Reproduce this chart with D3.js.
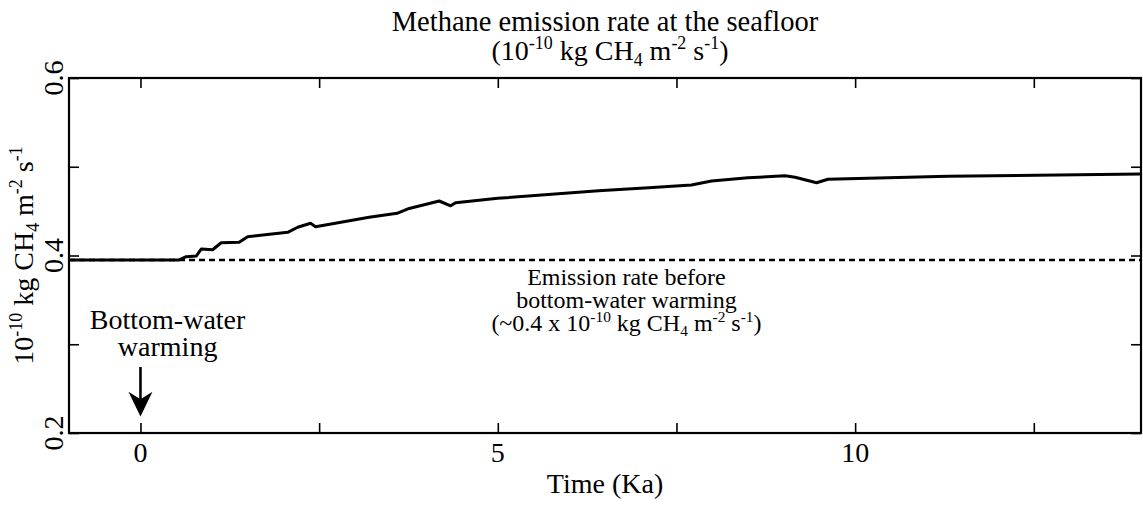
<!DOCTYPE html>
<html>
<head>
<meta charset="utf-8">
<script src="https://cdn.jsdelivr.net/npm/d3@7"></script>
<style>
  html, body { margin: 0; padding: 0; background: #fff; }
  svg { display: block; }
  text { font-family: "Liberation Serif", "Times New Roman", serif; fill: #000; }
</style>
</head>
<body>
<svg id="chart" width="1143" height="506"></svg>
<script>
// Time since bottom-water warming began (thousand years)
const timeKa = [-1, 0.54, 0.64, 0.78, 0.85, 1.01, 1.13, 1.38, 1.50, 2.06, 2.20, 2.38, 2.45,
  3.20, 3.59, 3.76, 4.18, 4.34, 4.41, 5.0, 6.41, 7.11, 7.71, 7.99, 8.5, 9.02, 9.16, 9.46, 9.62, 11.3, 14];
// Seafloor methane emission rate (10^-10 kg CH4 m^-2 s^-1)
const emission = [0.395, 0.395, 0.3987, 0.3994, 0.4073, 0.4065, 0.4144, 0.4149, 0.4212, 0.4261, 0.4318, 0.4363, 0.4325,
  0.443, 0.4475, 0.453, 0.4614, 0.456, 0.4595, 0.4644, 0.473, 0.4764, 0.4794, 0.484, 0.4875, 0.4899, 0.4881, 0.482, 0.4859, 0.4893, 0.4918];
// Pre-warming reference rate
const baselineRate = 0.395;

const xTicks = [0, 2.5, 5, 7.5, 10, 12.5];
const xTickLabels = { 0: "0", 5: "5", 10: "10" };
const yTicks = [0.2, 0.3, 0.4, 0.5, 0.6];
const yTickLabels = { 0.2: "0.2", 0.4: "0.4", 0.6: "0.6" };

const W = 1143, H = 506;
const margin = { top: 78, right: 2, bottom: 73, left: 69 };
const pw = W - margin.left - margin.right;
const ph = H - margin.top - margin.bottom;

const svg = d3.select("#chart");
const g = svg.append("g").attr("transform", `translate(${margin.left},${margin.top})`);

const x = d3.scaleLinear().domain([-1, 14]).range([0, pw]);
const y = d3.scaleLinear().domain([0.2, 0.6]).range([ph, 0]);

// Write text with super/subscript runs: parts = [[string, "" | "sup" | "sub"], ...]
function rich(sel, parts, fs) {
  let off = 0;
  parts.forEach(([s, kind]) => {
    const target = kind === "sup" ? -0.38 * fs : kind === "sub" ? 0.22 * fs : 0;
    sel.append("tspan").text(s)
      .attr("font-size", kind ? fs * 0.64 : fs)
      .attr("dy", target - off);
    off = target;
  });
  return sel;
}

// Inward ticks on all four sides
g.append("g").attr("transform", `translate(0,${ph})`)
  .call(d3.axisBottom(x).tickValues(xTicks).tickSize(-10).tickFormat(""))
  .call(a => a.select(".domain").remove());
g.append("g")
  .call(d3.axisTop(x).tickValues(xTicks).tickSize(-10).tickFormat(""))
  .call(a => a.select(".domain").remove());
g.append("g")
  .call(d3.axisLeft(y).tickValues(yTicks).tickSize(-10).tickFormat(""))
  .call(a => a.select(".domain").remove());
g.append("g").attr("transform", `translate(${pw},0)`)
  .call(d3.axisRight(y).tickValues(yTicks).tickSize(-10).tickFormat(""))
  .call(a => a.select(".domain").remove());
g.selectAll(".tick line").attr("stroke", "#000").attr("stroke-width", 1.6);

// Frame
g.append("rect").attr("x", 0).attr("y", 0).attr("width", pw).attr("height", ph)
  .attr("fill", "none").attr("stroke", "#000").attr("stroke-width", 2.2);

// Tick labels
g.selectAll(".xlab").data(xTicks.filter(d => xTickLabels[d] !== undefined)).join("text")
  .attr("x", d => x(d)).attr("y", ph + 29)
  .attr("text-anchor", "middle").attr("font-size", 28)
  .text(d => xTickLabels[d]);
g.selectAll(".ylab").data(yTicks.filter(d => yTickLabels[d] !== undefined)).join("text")
  .attr("transform", d => `translate(-6,${y(d)}) rotate(-90)`)
  .attr("text-anchor", "middle").attr("font-size", 28)
  .text(d => yTickLabels[d]);

// Reference (pre-warming) level
g.append("line")
  .attr("x1", 0).attr("x2", pw)
  .attr("y1", y(baselineRate)).attr("y2", y(baselineRate))
  .attr("stroke", "#000").attr("stroke-width", 2.4).attr("stroke-dasharray", "6,4");

// Emission curve
const line = d3.line().x((d, i) => x(timeKa[i])).y(d => y(d));
g.append("path").datum(emission)
  .attr("d", line)
  .attr("fill", "none").attr("stroke", "#000").attr("stroke-width", 3)
  .attr("stroke-linejoin", "round");

// Warming onset arrow
const ax = x(0);
g.append("line").attr("x1", ax).attr("x2", ax)
  .attr("y1", y(0.2744)).attr("y2", y(0.235))
  .attr("stroke", "#000").attr("stroke-width", 2.6);
g.append("path")
  .attr("d", `M${ax - 12},${y(0.2465)} L${ax},${y(0.2186)} L${ax + 12},${y(0.2465)} L${ax},${y(0.238)} Z`)
  .attr("fill", "#000");

// Annotations
const t1 = g.append("text").attr("text-anchor", "middle").attr("font-size", 28);
t1.append("tspan").attr("x", x(0.38)).attr("y", 251).text("Bottom-water");
t1.append("tspan").attr("x", x(0.38)).attr("y", 278).text("warming");

const note = g.append("g").attr("font-size", 24);
note.append("text").attr("x", x(6.8)).attr("y", 207).attr("text-anchor", "middle").text("Emission rate before");
note.append("text").attr("x", x(6.8)).attr("y", 230).attr("text-anchor", "middle").text("bottom-water warming");
rich(note.append("text").attr("x", x(6.8)).attr("y", 253).attr("text-anchor", "middle"),
  [["(~0.4 x 10", ""], ["-10", "sup"], [" kg CH", ""], ["4", "sub"], [" m", ""], ["-2", "sup"], [" s", ""], ["-1", "sup"], [")", ""]], 24);

// Title
const cx = margin.left + pw / 2;
svg.append("text").attr("x", cx).attr("y", 31).attr("text-anchor", "middle").attr("font-size", 28.5)
  .text("Methane emission rate at the seafloor");
rich(svg.append("text").attr("x", cx + 5).attr("y", 60).attr("text-anchor", "middle"),
  [["(10", ""], ["-10", "sup"], [" kg CH", ""], ["4", "sub"], [" m", ""], ["-2", "sup"], [" s", ""], ["-1", "sup"], [")", ""]], 28);

// Axis titles
svg.append("text").attr("x", cx).attr("y", margin.top + ph + 60).attr("text-anchor", "middle")
  .attr("font-size", 28).text("Time (Ka)");
rich(svg.append("text").attr("transform", `translate(33,${margin.top + ph / 2}) rotate(-90)`)
  .attr("text-anchor", "middle"),
  [["10", ""], ["-10", "sup"], [" kg CH", ""], ["4", "sub"], [" m", ""], ["-2", "sup"], [" s", ""], ["-1", "sup"]], 28);
</script>
</body>
</html>
